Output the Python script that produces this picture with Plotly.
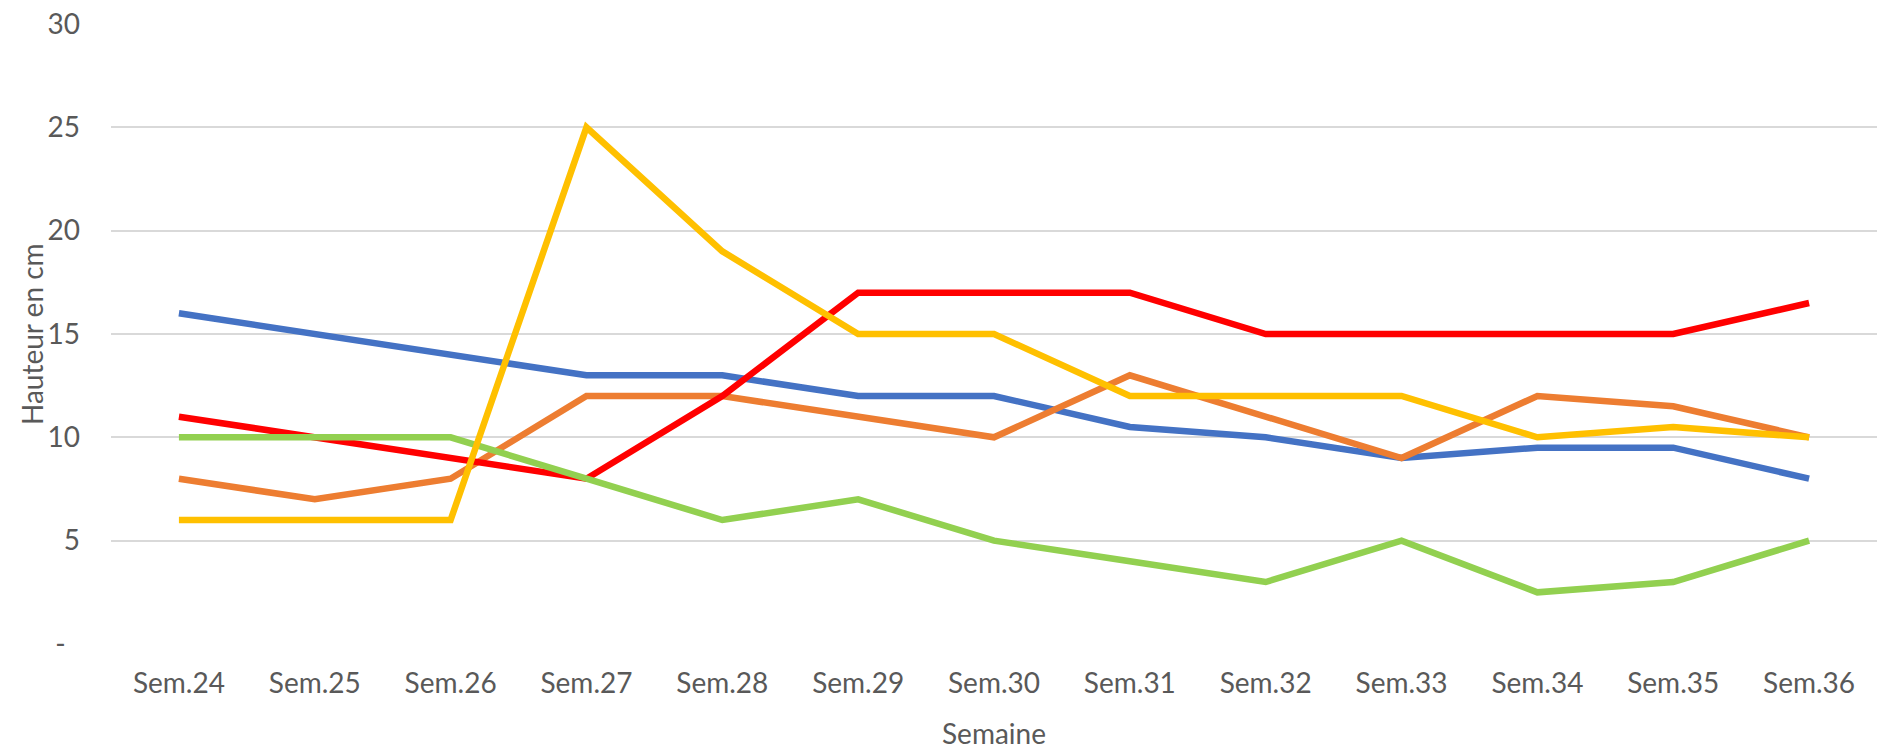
import plotly.graph_objects as go

weeks = ["Sem.24", "Sem.25", "Sem.26", "Sem.27", "Sem.28", "Sem.29", "Sem.30",
         "Sem.31", "Sem.32", "Sem.33", "Sem.34", "Sem.35", "Sem.36"]

blue = [16, 15, 14, 13, 13, 12, 12, 10.5, 10, 9, 9.5, 9.5, 8]
orange = [8, 7, 8, 12, 12, 11, 10, 13, 11, 9, 12, 11.5, 10]
red = [11, 10, 9, 8, 12, 17, 17, 17, 15, 15, 15, 15, 16.5]
green = [10, 10, 10, 8, 6, 7, 5, 4, 3, 5, 2.5, 3, 5]
yellow = [6, 6, 6, 25, 19, 15, 15, 12, 12, 12, 10, 10.5, 10]

y_ticks = [0, 5, 10, 15, 20, 25, 30]
y_ticktext = ["-\u00a0\u00a0", "5", "10", "15", "20", "25", "30"]

series = [
    ("Série 1", blue, "#4472C4"),
    ("Série 2", orange, "#ED7D31"),
    ("Série 3", red, "#FF0000"),
    ("Série 4", green, "#92D050"),
    ("Série 5", yellow, "#FFC000"),
]

FONT = "Lato, 'Open Sans', sans-serif"
GRAY = "#595959"

fig = go.Figure()
for name, vals, col in series:
    fig.add_trace(go.Scatter(
        x=weeks, y=vals, name=name, mode="lines",
        line=dict(color=col, width=6.5),
    ))

fig.update_layout(
    width=1878, height=750,
    margin=dict(l=111, r=1, t=24, b=104),
    paper_bgcolor="white", plot_bgcolor="white",
    showlegend=False,
    font=dict(family=FONT, size=28, color=GRAY),
)
fig.update_xaxes(
    type="category", range=[-0.5, 12.5],
    showgrid=False, showline=False, zeroline=False,
    ticks="", ticklabelstandoff=20,
    tickfont=dict(family=FONT, size=28, color=GRAY),
    title=dict(text="Semaine", font=dict(family=FONT, size=28, color=GRAY), standoff=30),
)
fig.update_yaxes(
    range=[0, 30], tickvals=y_ticks, ticktext=y_ticktext,
    showgrid=True, gridcolor="#D9D9D9", gridwidth=2,
    zeroline=False, showline=False, ticks="",
    ticklabelstandoff=30,
    tickfont=dict(family=FONT, size=28, color=GRAY),
)

fig.add_annotation(
    text="Hauteur en cm", textangle=-90, showarrow=False,
    xref="paper", yref="paper", x=0, y=0.5, xshift=-79,
    xanchor="center", yanchor="middle",
    font=dict(family=FONT, size=28, color=GRAY),
)

fig.write_html(
    "out.html",
    config={"displayModeBar": False},
    post_script="document.body.style.margin='0';document.body.style.overflow='hidden';",
)
